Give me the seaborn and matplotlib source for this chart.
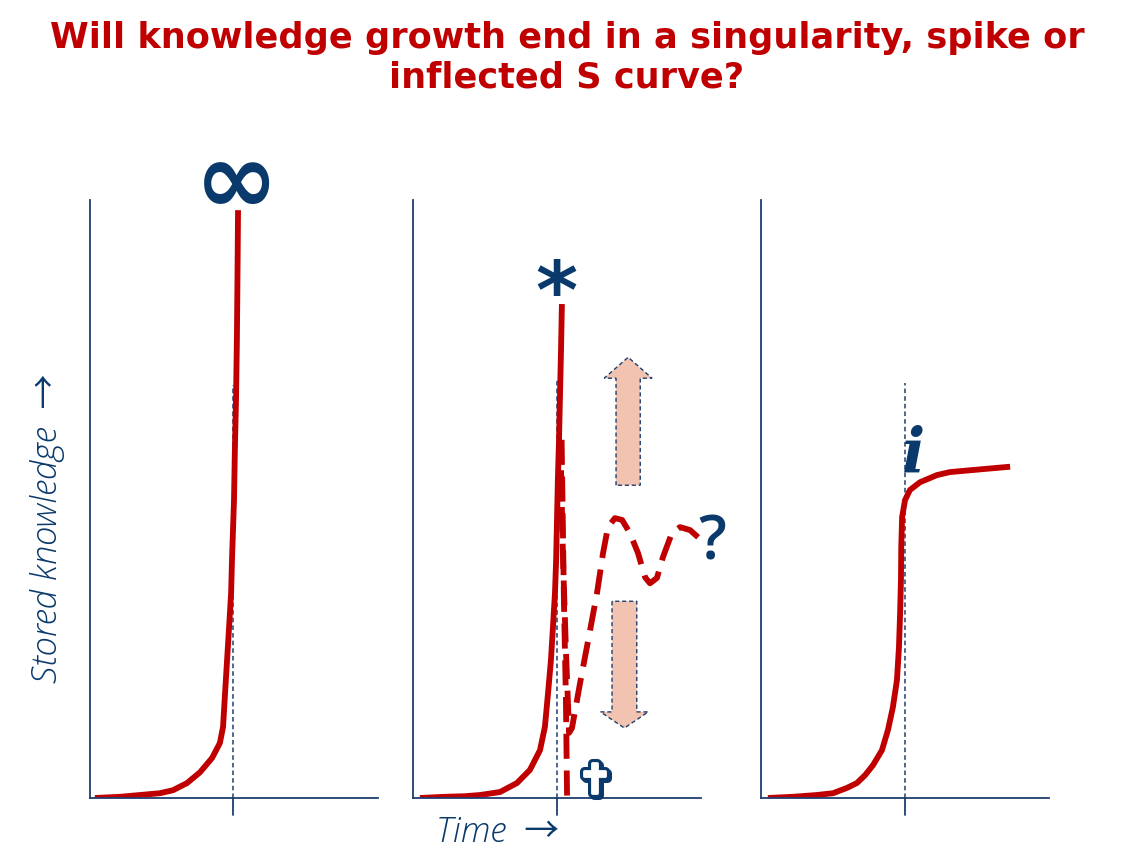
import matplotlib
matplotlib.use('Agg')
import matplotlib.pyplot as plt
import matplotlib.patheffects as pe
from matplotlib.patches import Polygon
import numpy as np
import pandas as pd
import seaborn as sns

# ---- data (time / stored knowledge, in % of each panel) ----
sing_t = [1.7, 10.4, 17.4, 24.3, 28.8, 33.7, 38.2, 42.4, 45.1, 46.2, 46.9, 47.6,
          48.3, 49.0, 49.3, 50.0, 50.3, 50.7, 51.0, 51.2, 51.4]
sing_k = [0.0, 0.2, 0.5, 0.8, 1.3, 2.5, 4.3, 6.7, 9.2, 11.9, 17.6, 23.1,
          28.6, 34.3, 39.8, 49.8, 58.2, 66.6, 76.6, 86.6, 98.3]

spike_t = [2.4, 11.1, 18.1, 23.3, 30.2, 36.1, 40.6, 44.1, 45.8, 46.9, 47.9, 48.6,
           49.3, 49.7, 50.0, 50.3, 50.7, 51.0, 51.4, 51.7]
spike_k = [0.0, 0.2, 0.3, 0.5, 1.0, 2.5, 4.7, 8.0, 11.9, 17.6, 23.1, 28.6,
           34.3, 39.8, 46.5, 53.2, 59.9, 66.6, 75.0, 82.6]

drop_t = [51.6, 52.4, 53.1, 53.5]
drop_k = [59.9, 33.1, 16.4, 0.0]

wave_t = [51.4, 52.1, 53.1, 54.2, 55.2, 58.0, 61.5, 63.9, 66.0, 67.7, 70.1, 72.6,
          75.3, 78.1, 80.6, 82.3, 84.7, 86.8, 89.9, 92.7, 96.2, 99.0]
wave_k = [54.8, 39.8, 24.7, 10.9, 11.7, 19.2, 28.1, 34.3, 41.0, 45.3, 46.8, 46.5,
          44.3, 41.0, 36.9, 35.9, 36.8, 40.3, 44.3, 45.3, 44.8, 43.6]

scurve_t = [2.4, 11.1, 19.4, 25.0, 29.9, 33.3, 36.1, 38.9, 42.0, 44.1, 45.8, 47.2,
            47.9, 48.3, 48.6, 48.7, 49.0, 50.0, 51.7, 55.2, 61.1, 65.6, 77.1, 86.5]
scurve_k = [0.0, 0.2, 0.5, 0.8, 1.7, 2.5, 3.8, 5.5, 8.0, 11.4, 15.2, 19.7,
            25.2, 30.9, 36.5, 42.0, 47.0, 49.8, 51.5, 52.8, 54.0, 54.5, 55.0, 55.4]

# moment of the event in each panel (time) and how high the marker line goes
event_t = [49.7, 50.0, 50.0]
event_top = [69.1, 69.9, 69.4]

RED = '#C00000'
NAVY = '#1F3F70'
SYM = '#0A3A6B'
PEACH = '#F2C3B0'

sns.set_style('white')
plt.rcParams['font.family'] = ['DejaVu Sans']

W, H = 1134, 860
fig = plt.figure(figsize=(W / 100, H / 100), dpi=100)

lefts = [90, 413, 761]
axes = []
for L in lefts:
    ax = fig.add_axes([L / W, 62 / H, 288 / W, 598 / H])
    ax.set_xticks([])
    ax.set_yticks([])
    for s in ['top', 'right']:
        ax.spines[s].set_visible(False)
    for s in ['left', 'bottom']:
        ax.spines[s].set_color(NAVY)
        ax.spines[s].set_linewidth(1.3)
    ax.patch.set_alpha(0)
    axes.append(ax)

for ax, t, top in zip(axes, event_t, event_top):
    ax.plot([t, t], [0, top], color=NAVY, lw=1.1, ls=(0, (3, 2)), zorder=1)
    ax.plot([t, t], [-2.8, 0], color=NAVY, lw=1.3, clip_on=False, zorder=1)

line_kw = dict(color=RED, lw=4.2, estimator=None, sort=False, legend=False)
dash = (0, (4.3, 2.0))

sns.lineplot(x=sing_t, y=sing_k, ax=axes[0], solid_capstyle='butt',
             solid_joinstyle='round', **line_kw)
sns.lineplot(x=spike_t, y=spike_k, ax=axes[1], solid_capstyle='butt',
             solid_joinstyle='round', **line_kw)
sns.lineplot(x=drop_t, y=drop_k, ax=axes[1], linestyle=dash, dash_capstyle='butt', **line_kw)
sns.lineplot(x=wave_t, y=wave_k, ax=axes[1], linestyle=dash, dash_capstyle='butt',
             dash_joinstyle='round', **line_kw)
sns.lineplot(x=scurve_t, y=scurve_k, ax=axes[2], solid_capstyle='butt',
             solid_joinstyle='round', **line_kw)
for ax in axes:
    ax.set_xlim(0, 100)
    ax.set_ylim(0, 100)
    ax.set_xlabel('')
    ax.set_ylabel('')


def block_arrow(ax, xc, y_tail, y_base, y_tip, shaft_hw, head_hw):
    pts = [(xc - shaft_hw, y_tail), (xc - shaft_hw, y_base), (xc - head_hw, y_base),
           (xc, y_tip), (xc + head_hw, y_base), (xc + shaft_hw, y_base),
           (xc + shaft_hw, y_tail)]
    ax.add_patch(Polygon(pts, closed=True, facecolor=PEACH, edgecolor=NAVY,
                         lw=1.0, ls=(0, (3, 2)), zorder=2))


block_arrow(axes[1], 74.7, 52.3, 70.2, 73.7, 4.2, 8.3)
block_arrow(axes[1], 73.4, 32.9, 14.4, 11.7, 4.3, 8.3)

# symbols
axes[0].text(50.8, 102.5, '\u221e', color=SYM, fontsize=72, fontweight='bold',
             ha='center', va='center', clip_on=False)
axes[1].text(49.7, 84.0, '*', color=SYM, fontsize=58, fontweight='bold',
             ha='center', va='center')
axes[1].text(103.8, 42.5, '?', color=SYM, fontsize=44, family='Open Sans',
             fontweight='semibold', ha='center', va='center', clip_on=False)
axes[1].text(63.0, 2.8, '\u271d', color='white', fontsize=30, fontweight='bold',
             ha='center', va='center', zorder=4,
             path_effects=[pe.Stroke(linewidth=6.5, foreground=SYM, offset=(1.5, -1.5)),
                           pe.Stroke(linewidth=6.5, foreground=SYM),
                           pe.Stroke(linewidth=2.0, foreground='white'), pe.Normal()])
axes[2].text(53.0, 57.5, 'i', color=SYM, fontsize=44, fontweight='bold',
             style='italic', family='DejaVu Serif', ha='center', va='center')

# labels
label_font = ['Open Sans', 'Noto Sans CJK SC', 'DejaVu Sans']
fig.text(48 / W, 1 - 528 / H, 'Stored knowledge  \u2192', rotation=90, color=SYM,
         fontsize=25, style='italic', fontweight='light', family=label_font,
         ha='center', va='center')
fig.text(497 / W, 1 - 832 / H, 'Time  \u2192', color=SYM, fontsize=25,
         style='italic', fontweight='light', family=label_font,
         ha='center', va='center')

fig.text(0.5, 1 - 58 / H,
         'Will knowledge growth end in a singularity, spike or\ninflected S curve?',
         color=RED, fontsize=25.3, fontweight='bold', ha='center', va='center',
         linespacing=1.22)

fig.savefig('out.png', dpi=100)
